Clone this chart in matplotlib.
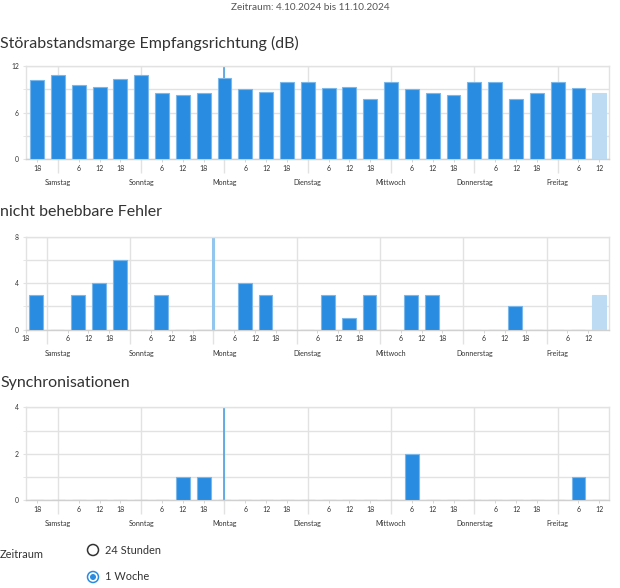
import matplotlib
matplotlib.use("Agg")
import matplotlib.pyplot as plt
from matplotlib.patches import Circle
from matplotlib.ticker import FixedLocator, NullFormatter

plt.rcParams['font.family'] = ['Lato', 'DejaVu Sans']

# ---------------- data ----------------
period_title = "Zeitraum: 4.10.2024 bis 11.10.2024"
chart_titles = ["Störabstandsmarge Empfangsrichtung (dB)",
                "nicht behebbare Fehler",
                "Synchronisationen"]
day_names = ["Samstag", "Sonntag", "Montag", "Dienstag", "Mittwoch", "Donnerstag", "Freitag"]
day_starts = [24, 48, 72, 96, 120, 144, 168]          # hours since Fri 4.10. 00:00
hour_ticks = [18, 30, 36, 42, 54, 60, 66, 78, 84, 90, 102, 108, 114,
              126, 132, 138, 150, 156, 162, 174, 180]
hour_labels = ["18", "6", "12", "18", "6", "12", "18", "6", "12", "18", "6", "12", "18",
               "6", "12", "18", "6", "12", "18", "6", "12"]

# 6-hour slots (Fri 18:00 ... Fri 12:00)
slot_hours = [18, 24, 30, 36, 42, 48, 54, 60, 66, 72, 78, 84, 90, 96, 102, 108,
              114, 120, 126, 132, 138, 144, 150, 156, 162, 168, 174, 180]

snr_db = [10.2, 10.9, 9.6, 9.3, 10.3, 10.9, 8.5, 8.3, 8.5, 10.4, 9.0, 8.7, 10.0, 10.0,
          9.1, 9.3, 7.7, 10.0, 9.0, 8.5, 8.3, 10.0, 10.0, 7.7, 8.5, 10.0, 9.1, 8.5]
errors = [3, 0, 3, 4, 6, 0, 3, 0, 0, 0, 4, 3, 0, 0, 3, 1, 3, 0, 3, 3, 0, 0, 0, 2, 0, 0, 0, 3]
syncs = [0, 0, 0, 0, 0, 0, 0, 1, 1, 0, 0, 0, 0, 0, 0, 0, 0, 0, 2, 0, 0, 0, 0, 0, 0, 0, 1, 0]

marker_hour = 72

# ---------------- style ----------------
W, H = 620, 588
BAR = "#2a8ce0"
BAR_EDGE = "#7ab8ec"
BAR_LIGHT = "#bddcf4"
GRID = "#e2e2e2"
TXT = "#333333"
PT = 0.72

fig = plt.figure(figsize=(W / 100, H / 100), dpi=100)

overlay = fig.add_axes([0, 0, 1, 1], zorder=-5)
overlay.set_xlim(0, W)
overlay.set_ylim(H, 0)
overlay.axis("off")


def ax_rect(top, bottom, left=26, right=609):
    return [left / W, (H - bottom) / H, (right - left) / W, (bottom - top) / H]


def setup(ax, xlim, ymax, ylabels_step, day_offset):
    ax.set_xlim(*xlim)
    ax.set_ylim(0, ymax)
    ax.set_facecolor("white")
    for s in ax.spines.values():
        s.set_color(GRID)
        s.set_linewidth(1.0)
    ax.spines['bottom'].set_color("#d0d0d0")
    # horizontal grid
    ax.yaxis.set_major_locator(FixedLocator([0, ylabels_step, 2 * ylabels_step]))
    ax.yaxis.set_minor_locator(FixedLocator([ylabels_step / 2, 1.5 * ylabels_step]))
    ax.yaxis.set_minor_formatter(NullFormatter())
    ax.grid(axis='y', which='both', color=GRID, linewidth=1.0, zorder=0)
    ax.tick_params(axis='y', which='both', length=3 * PT, color=GRID,
                   labelsize=6.8 * PT, labelcolor=TXT, pad=3)
    # vertical day boundaries
    ax.xaxis.set_major_locator(FixedLocator([d for d in day_starts if xlim[0] < d < xlim[1]]))
    ax.xaxis.set_major_formatter(NullFormatter())
    ax.grid(axis='x', which='major', color=GRID, linewidth=1.0, zorder=0)
    ax.tick_params(axis='x', which='major', length=14 * PT, color=GRID, width=1.0)
    ht = [h for h in hour_ticks if xlim[0] - 0.1 <= h < xlim[1]]
    hl = [l for h, l in zip(hour_ticks, hour_labels) if xlim[0] - 0.1 <= h < xlim[1]]
    ax.set_xticks(ht, hl, minor=True)
    ax.tick_params(axis='x', which='minor', length=3 * PT, color="#d0d0d0",
                   labelsize=7 * PT, labelcolor=TXT, pad=2)
    ax.set_axisbelow(True)
    for d, name in zip(day_starts, day_names):
        ax.annotate(name, xy=(d + day_offset, 0), xycoords=('data', 'axes fraction'),
                    xytext=(0, -26 * PT), textcoords='offset points',
                    ha='center', va='baseline', fontsize=7.2 * PT, color=TXT,
                    annotation_clip=False)


def draw_bars(ax, xs, vals):
    colors = [BAR] * (len(vals) - 1) + [BAR_LIGHT]
    edges = [BAR_EDGE] * (len(vals) - 1) + [BAR_LIGHT]
    ax.bar(xs, vals, width=4.0, color=colors, edgecolor=edges, linewidth=0.8, zorder=3)


# chart 1
ax1 = fig.add_axes(ax_rect(66, 159))
setup(ax1, (14.8, 182.8), 12, 6, 0)
ax1.axvline(marker_hour, color="#4c9fe4", linewidth=1.2, zorder=2)
draw_bars(ax1, slot_hours, snr_db)

# chart 2
ax2 = fig.add_axes(ax_rect(236.7, 329.7))
setup(ax2, (18, 186), 8, 4, 3.2)
ax2.axvline(marker_hour, color="#93c6ee", linewidth=2.2, zorder=2)
draw_bars(ax2, [h + 3 for h in slot_hours], errors)

# chart 3
ax3 = fig.add_axes(ax_rect(407.3, 500.3))
setup(ax3, (14.8, 182.8), 4, 2, 0)
ax3.axvline(marker_hour, color="#4c9fe4", linewidth=1.2, zorder=2)
ax3.bar(slot_hours, syncs, width=4.0, color=BAR, edgecolor=BAR_EDGE, linewidth=0.8, zorder=3)

# texts
overlay.text(310, 8, period_title, ha='center', va='center', fontsize=10 * PT, color="#555555")
for y, t in zip([43, 212, 383], chart_titles):
    overlay.text(0, y, t, ha='left', va='center', fontsize=16 * PT, color=TXT)

overlay.text(0, 555, "Zeitraum", ha='left', va='center', fontsize=11 * PT, color=TXT)
overlay.add_patch(Circle((93, 550), 5.5, facecolor='white', edgecolor="#333333", linewidth=1.1))
overlay.text(105, 550, "24 Stunden", ha='left', va='center', fontsize=11 * PT, color=TXT)
overlay.add_patch(Circle((93, 577), 5.5, facecolor='white', edgecolor=BAR, linewidth=1.1))
overlay.add_patch(Circle((93, 577), 3.0, facecolor=BAR, edgecolor='none'))
overlay.text(105, 577, "1 Woche", ha='left', va='center', fontsize=11 * PT, color=TXT)

fig.savefig("out.png", dpi=100)
